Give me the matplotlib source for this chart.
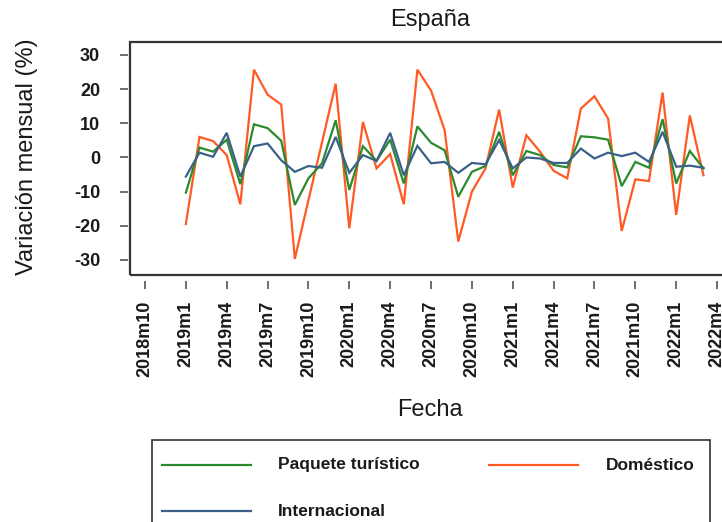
import matplotlib.pyplot as plt
import numpy as np
from matplotlib.lines import Line2D
from matplotlib.patches import Rectangle

plt.rcParams["font.family"] = ["Liberation Sans", "DejaVu Sans"]

W, H = 722, 522
TEXT = "#1a1a1a"

# monthly series, 2019m1 .. 2022m3
start_year, start_month = 2019, 1
paquete = [-10.3, 2.9, 1.7, 5.2, -7.8, 9.7, 8.6, 4.9, -13.9, -6.1, -1.7,
           10.9, -9.5, 3.3, -1.0, 5.2, -7.6, 9.1, 4.3, 2.1, -11.5, -4.2, -2.5,
           7.5, -5.2, 1.9, 0.7, -2.2, -2.9, 6.2, 5.9, 5.2, -8.4, -1.3, -3.0,
           11.2, -7.6, 1.9, -3.2]
domestico = [-19.5, 6.0, 4.8, 0.7, -13.7, 25.7, 18.4, 15.5, -29.7, -12.5, 4.5,
             21.6, -20.7, 10.4, -3.2, 1.0, -13.7, 25.7, 19.6, 8.0, -24.6, -10.0,
             -3.2, 14.0, -8.8, 6.5, 1.7, -3.9, -6.1, 14.3, 17.9, 11.4, -21.5,
             -6.4, -6.9, 19.0, -16.8, 12.3, -5.2]
internacional = [-5.6, 1.4, 0.2, 7.2, -5.6, 3.3, 4.1, -0.8, -4.2, -2.5, -3.0,
                 6.0, -4.5, 0.7, -1.0, 7.2, -5.2, 3.4, -1.7, -1.3, -4.5, -1.6,
                 -2.0, 5.1, -3.2, 0.0, -0.3, -1.6, -1.6, 2.6, -0.3, 1.4, 0.4,
                 1.4, -1.3, 7.5, -2.7, -2.4, -3.0]

x_tick_labels = ["2018m10", "2019m1", "2019m4", "2019m7", "2019m10",
                 "2020m1", "2020m4", "2020m7", "2020m10", "2021m1",
                 "2021m4", "2021m7", "2021m10", "2022m1", "2022m4"]
y_ticks = [-30, -20, -10, 0, 10, 20, 30]

series = [
    ("Paquete turístico", paquete, "#2b8a2e"),
    ("Doméstico", domestico, "#ff5a24"),
    ("Internacional", internacional, "#3b6189"),
]


def month_index(label):
    y, m = label.split("m")
    return (int(y) - start_year) * 12 + int(m) - start_month


def fx(px):
    return px / W


def fy(py):
    return 1 - py / H


fig = plt.figure(figsize=(W / 100, H / 100), dpi=100)
ax = fig.add_axes([fx(130), fy(275), fx(730) - fx(130), fy(42) - fy(275)])

t = np.arange(len(paquete))
for name, vals, col in [series[1], series[0], series[2]]:
    ax.plot(t, vals, color=col, lw=1.6, solid_joinstyle="miter")

ax.set_xlim(-4.1, 39.95)
ax.set_ylim(-34.4, 33.8)

for s in ax.spines.values():
    s.set_visible(False)
ax.spines["bottom"].set_position(("outward", 4.3))
ax.spines["left"].set_position(("outward", 1.5))
ax.add_patch(Rectangle((0, 0), 1, 1, transform=ax.transAxes, fill=False,
                       lw=1.6, ec="#333333", clip_on=False))

ax.set_xticks([month_index(l) for l in x_tick_labels])
ax.set_xticklabels(x_tick_labels, rotation=90, fontsize=13, fontweight="bold",
                   color=TEXT)
ax.set_yticks(y_ticks)
ax.set_yticklabels([str(v) for v in y_ticks], fontsize=13, fontweight="bold",
                   color=TEXT)
ax.tick_params(axis="x", length=6, width=1.2, color="#555555", pad=8)
ax.tick_params(axis="y", length=6, width=1.2, color="#555555", pad=14)

fig.text(fx(430), fy(20), "España", ha="center", va="center", fontsize=17,
         color=TEXT)
fig.text(fx(430), fy(410), "Fecha", ha="center", va="center", fontsize=17,
         color=TEXT)
fig.text(fx(27), fy(157), "Variación mensual (%)", ha="center", va="center",
         rotation=90, fontsize=17, color=TEXT)

# legend box
fig.add_artist(Rectangle((fx(152), fy(540)), fx(710) - fx(152),
                         fy(440) - fy(540), transform=fig.transFigure,
                         fill=False, lw=1.2, ec="#333333"))
leg_pos = [(162, 465, 278, "left"), (489, 465, 695, "right"),
           (162, 511, 278, "left")]
for (name, vals, col), (lx, ly, tx, ha) in zip(series, leg_pos):
    fig.add_artist(Line2D([fx(lx), fx(lx + 89)], [fy(ly), fy(ly)],
                          transform=fig.transFigure, color=col, lw=1.6))
    fig.text(fx(tx), fy(ly), name, ha=ha, va="center", fontsize=12.5,
             fontweight="bold", color=TEXT)

fig.savefig("out.png", dpi=100)
